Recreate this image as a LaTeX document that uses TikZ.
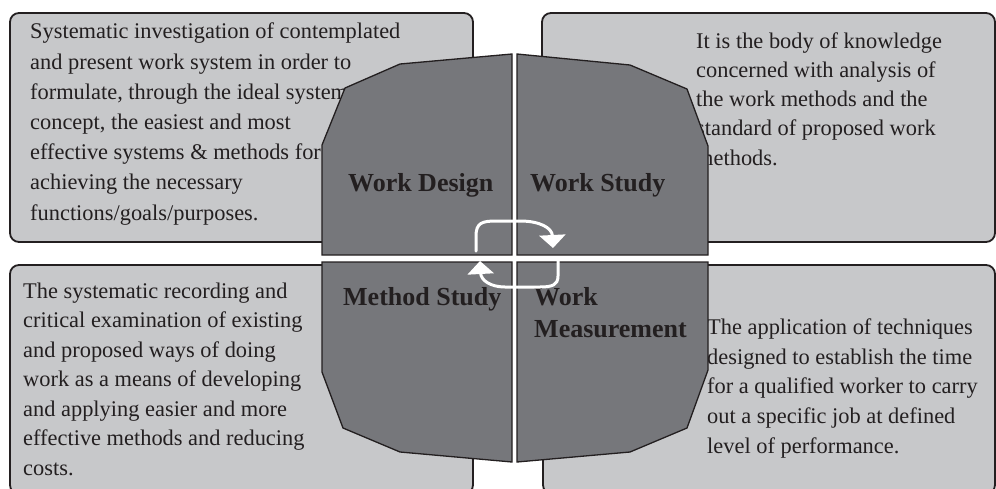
\documentclass[tikz,border=0pt]{standalone}
\usepackage{fontspec}
\setmainfont{Liberation Serif}
\usetikzlibrary{arrows.meta}
\definecolor{lightbox}{HTML}{C7C8CA}
\definecolor{darkquad}{HTML}{76777B}
\definecolor{inktext}{HTML}{231F20}
\begin{document}
\begin{tikzpicture}[x=1pt,y=-1pt,
  bgbox/.style={draw=inktext, line width=1.8pt, fill=lightbox, rounded corners=9pt},
  para/.style={inner sep=0pt, align=left, text=inktext, anchor=base west},
  quad/.style={draw=inktext, line width=1.3pt, fill=darkquad, line join=miter},
  quadlabel/.style={inner sep=0pt, align=left, text=inktext, anchor=base west,
    font=\fontsize{26}{32}\selectfont\bfseries},
  cyc/.style={draw=white, line width=3pt, line cap=round,
    -{Triangle[width=26pt,length=13pt]}}]
\useasboundingbox (0,0) rectangle (996,488);
% light background boxes
\path[bgbox] (10,13) rectangle (473,242);
\path[bgbox] (542,13) rectangle (995,242);
\path[bgbox] (10,265) rectangle (473,494);
\path[bgbox] (543,265) rectangle (995,494);
% definitions (anchored at the baseline of the last line)
\node[para, font=\fontsize{22.4}{30.2}\selectfont] (tltext) at (30,220)
 {Systematic investigation of contemplated\\
  and present work system in order to\\
  formulate, through the ideal system\\
  concept, the easiest and most\\
  effective systems \& methods for\\
  achieving the necessary\\
  functions/goals/purposes.};
\node[para, font=\fontsize{22.4}{29.2}\selectfont] (trtext) at (696,165)
 {It is the body of knowledge\\
  concerned with analysis of\\
  the work methods and the\\
  standard of proposed work\\
  methods.};
\node[para, font=\fontsize{22.4}{29.5}\selectfont] (bltext) at (23,475)
 {The systematic recording and\\
  critical examination of existing\\
  and proposed ways of doing\\
  work as a means of developing\\
  and applying easier and more\\
  effective methods and reducing\\
  costs.};
\node[para, font=\fontsize{22.4}{29.6}\selectfont] (brtext) at (707,453)
 {The application of techniques\\
  designed to establish the time\\
  for a qualified worker to carry\\
  out a specific job at defined\\
  level of performance.};
% quadrants
\path[quad] (400,64) -- (512,54) -- (512,255) -- (322,255) -- (322,145) -- (345,88) -- cycle;
\path[quad] (517,54) -- (630,65) -- (687,89) -- (708,146) -- (708,255) -- (517,255) -- cycle;
\path[quad] (322,262) -- (512,262) -- (512,462) -- (400,452) -- (343,428) -- (322,372) -- cycle;
\path[quad] (517,262) -- (708,262) -- (708,370) -- (687,428) -- (630,452) -- (517,462) -- cycle;
% labels
\node[quadlabel] (wd) at (348,191) {Work Design};
\node[quadlabel] (ws) at (530,191) {Work Study};
\node[quadlabel] (ms) at (343,305) {Method Study};
\node[quadlabel] (wm) at (534,337) {Work\\Measurement};
% cycle arrows
\coordinate (a1s) at (476,251);
\coordinate (a1e) at (553,248);
\coordinate (a2s) at (558,260);
\coordinate (a2e) at (480,261);
\draw[cyc] (a1s) -- (476,236) .. controls (476,223) and (482,221) .. (496,221)
  -- (520,221) .. controls (540,221) and (552,228) .. (a1e);
\draw[cyc] (a2s) -- (558,276) .. controls (558,285) and (552,287) .. (540,287)
  -- (505,287) .. controls (490,287) and (481,280) .. (a2e);
\end{tikzpicture}
\end{document}
